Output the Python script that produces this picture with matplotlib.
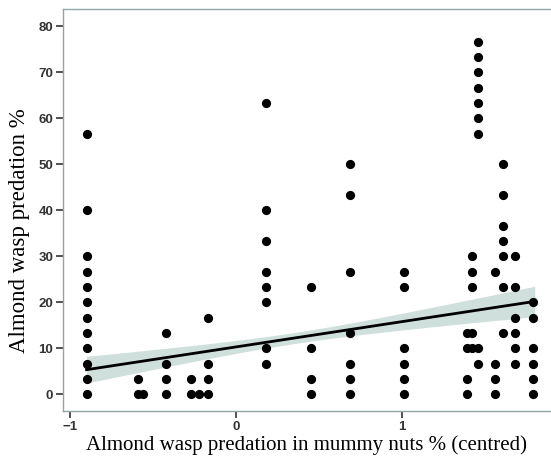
import matplotlib
matplotlib.use('Agg')
import matplotlib.pyplot as plt
import numpy as np

# predation values (%), grouped by x position (centred mummy-nut predation)
col_x = [-0.90, -0.59, -0.56, -0.42, -0.27, -0.22, -0.17,
         0.18, 0.45, 0.69, 1.01,
         1.39, 1.42, 1.46, 1.56, 1.61, 1.68, 1.79]
col_y = [
    [0, 3.33, 6.67, 10, 13.33, 16.67, 20, 23.33, 26.67, 30, 40, 56.67],
    [0, 3.33],
    [0],
    [0, 3.33, 6.67, 13.33],
    [0, 3.33],
    [0],
    [0, 3.33, 6.67, 16.67],
    [6.67, 10, 20, 23.33, 26.67, 33.33, 40, 63.33],
    [0, 3.33, 10, 23.33],
    [0, 3.33, 6.67, 13.33, 26.67, 43.33, 50],
    [0, 3.33, 6.67, 10, 23.33, 26.67],
    [0, 3.33, 10, 13.33],
    [10, 13.33, 23.33, 26.67, 30],
    [6.67, 10, 56.67, 60, 63.33, 66.67, 70, 73.33, 76.67],
    [0, 3.33, 6.67, 26.67],
    [13.33, 23.33, 30, 33.33, 36.67, 43.33, 50],
    [6.67, 10, 13.33, 16.67, 23.33, 30],
    [0, 3.33, 6.67, 10, 16.67, 20],
]

# fitted line and confidence band
fit_intercept = 10.3
fit_slope = 5.5
fit_range = [-0.9, 1.8]
band_centre = 0.35
band_min = 1.2
band_growth = 4.5

xs = np.concatenate([[x] * len(ys) for x, ys in zip(col_x, col_y)])
ys = np.concatenate(col_y)

fig = plt.figure(figsize=(5.51, 4.61), dpi=100)
ax = fig.add_axes([0.1143, 0.1085, 0.8857, 0.871])

xl = np.linspace(fit_range[0], fit_range[1], 100)
yl = fit_intercept + fit_slope * xl
hw = np.sqrt(band_min ** 2 + band_growth * (xl - band_centre) ** 2)
ax.fill_between(xl, yl - hw, yl + hw, color='#cfe0dc', lw=0, zorder=1)
ax.plot(xl, yl, color='black', lw=2, zorder=2)
ax.scatter(xs, ys, s=44, color='black', lw=0, zorder=3)

ax.set_xlim(-1.042, 1.898)
ax.set_ylim(-3.63, 83.7)
ax.set_xticks([-1, 0, 1])
ax.set_xticklabels(['\u22121', '0', '1'])
ax.set_yticks(range(0, 81, 10))

for side in ['left', 'bottom', 'top']:
    ax.spines[side].set_color('#8fa8a4')
    ax.spines[side].set_linewidth(1)
ax.spines['right'].set_visible(False)
ax.tick_params(direction='out', length=5, width=1.2, color='#333333',
               labelsize=9.5, labelcolor='#333333', pad=2)
for lab in ax.get_xticklabels() + ax.get_yticklabels():
    lab.set_family('Liberation Sans')
    lab.set_fontweight('bold')

ax.set_xlabel('Almond wasp predation in mummy nuts % (centred)',
              family='Liberation Serif', fontsize=15, labelpad=2)
ax.set_ylabel('Almond wasp predation %',
              family='Liberation Serif', fontsize=16.5)
ax.yaxis.set_label_coords(-0.068, 0.45)

fig.savefig('out.png', dpi=100)
